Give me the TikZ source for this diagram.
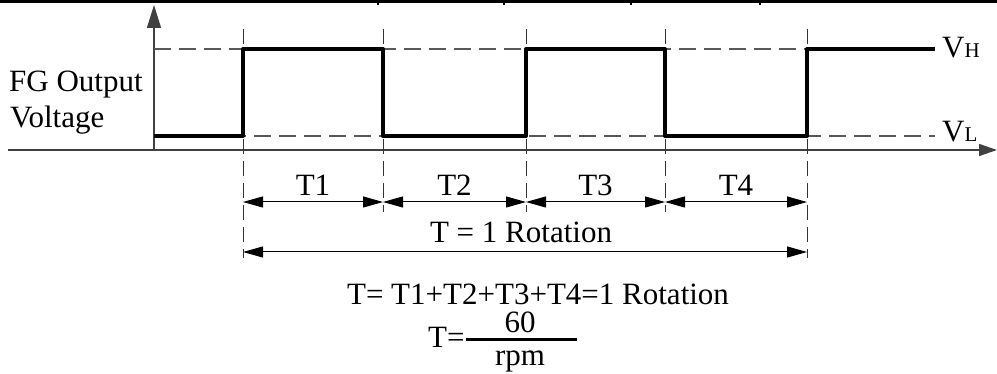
\documentclass[tikz,border=0pt]{standalone}
\usepackage{fontspec}
\setmainfont{Liberation Serif}
\usetikzlibrary{arrows.meta}
\begin{document}
\begin{tikzpicture}[x=1pt,y=-1pt,
  txt/.style={inner sep=0pt, font=\fontsize{31}{38}\selectfont},
  sig/.style={line width=4pt, line join=round},
  guide/.style={black!65, line width=1.2pt, dash pattern=on 17pt off 8pt},
  vguide/.style={black!80, line width=1pt, dash pattern=on 15pt off 7pt},
  axis/.style={black!75, line width=1.5pt},
  dim/.style={line width=1pt, {Triangle[length=20pt,width=11pt]}-{Triangle[length=20pt,width=11pt]}}
]
\useasboundingbox (0,0) rectangle (997,374);
% top border remnant
\coordinate (bl) at (0,1.5);
\coordinate (br) at (997,1.5);
\draw[line width=2.5pt] (bl) -- (br);
\foreach \x in {378,504,631,760} {
  \coordinate (tka\x) at (\x,1.5);
  \coordinate (tkb\x) at (\x,5);
  \draw[line width=1.5pt] (tka\x) -- (tkb\x);
}
% axes
\coordinate (o) at (154,150);
\coordinate (ytip) at (154,5);
\coordinate (xs) at (8,150);
\coordinate (xtip) at (997,150);
\draw[axis, -{Triangle[length=23pt,width=14pt]}] (o) -- (ytip);
\draw[axis, -{Triangle[length=18pt,width=12pt]}] (xs) -- (xtip);
% level guides
\coordinate (hs) at (154,49);
\coordinate (he) at (935,49);
\coordinate (ls) at (154,136);
\coordinate (le) at (935,136);
\draw[guide] (hs) -- (he);
\draw[guide] (ls) -- (le);
% vertical guides
\foreach \i/\x/\e in {1/243/258,2/383/212,3/526/212,4/665/212,5/807/258} {
  \coordinate (vt\i) at (\x,29);
  \coordinate (vb\i) at (\x,\e);
  \draw[vguide] (vt\i) -- (vb\i);
  \coordinate (da\i) at (\x,202);
  \coordinate (db\i) at (\x,252);
}
% signal
\draw[sig] (154,136) -- (243,136) -- (243,49) -- (383,49) -- (383,136)
  -- (526,136) -- (526,49) -- (665,49) -- (665,136) -- (807,136)
  -- (807,49) -- (935,49);
% dimension arrows
\draw[dim] (da1) -- (da2);
\draw[dim] (da2) -- (da3);
\draw[dim] (da3) -- (da4);
\draw[dim] (da4) -- (da5);
\draw[dim] (db1) -- (db5);
% labels
\node[txt, anchor=base west] (vh) at (942,58) {V{\fontsize{21}{24}\selectfont H}};
\node[txt, anchor=base west] (vl) at (942,142) {V{\fontsize{21}{24}\selectfont L}};
\node[txt, anchor=base west] (fg) at (9,91.7) {FG Output};
\node[txt, anchor=base west] (volt) at (10,127.5) {Voltage};
\node[txt, anchor=base] (t1) at (313,196) {T1};
\node[txt, anchor=base] (t2) at (454.5,196) {T2};
\node[txt, anchor=base] (t3) at (595.5,196) {T3};
\node[txt, anchor=base] (t4) at (736,196) {T4};
\node[txt, anchor=base] (trot) at (521,243) {T = 1 Rotation};
\node[txt, anchor=base] (eq) at (538,305) {T= T1+T2+T3+T4=1 Rotation};
\node[txt, anchor=base west] (teq) at (428,348) {T=};
\coordinate (fa) at (466,340);
\coordinate (fb) at (577,340);
\draw[line width=3pt] (fa) -- (fb);
\node[txt, anchor=base] (num) at (520,333) {60};
\node[txt, anchor=base] (den) at (520,366) {rpm};
\end{tikzpicture}
\end{document}
